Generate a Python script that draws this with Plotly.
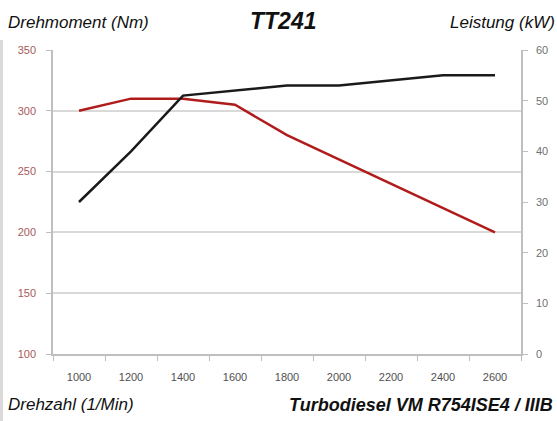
import plotly.graph_objects as go

rpm = ["1000", "1200", "1400", "1600", "1800", "2000", "2200", "2400", "2600"]
torque_nm = [300, 310, 310, 305, 280, 260, 240, 220, 200]
power_kw = [30, 40, 51, 52, 53, 53, 54, 55, 55]

fig = go.Figure()
fig.add_trace(go.Scatter(x=rpm, y=torque_nm, mode="lines", name="Drehmoment",
                         line=dict(color="#b01c1c", width=2.5), yaxis="y"))
fig.add_trace(go.Scatter(x=rpm, y=power_kw, mode="lines", name="Leistung",
                         line=dict(color="#1a1a1a", width=2.5), yaxis="y2"))

tickfont = dict(family="Liberation Sans, Arial, sans-serif", size=11)
fig.update_layout(
    width=557, height=421,
    margin=dict(l=53, r=36, t=50, b=67, autoexpand=False),
    paper_bgcolor="white", plot_bgcolor="white",
    showlegend=False,
    xaxis=dict(type="category", range=[-0.5, 8.5], showgrid=False, automargin=False,
               showline=True, linecolor="#bfbfbf", linewidth=1.5,
               ticks="outside", tickson="boundaries", ticklen=5, tickcolor="#bfbfbf",
               ticklabelstandoff=12,
               tickfont=dict(color="#505050", **tickfont)),
    yaxis=dict(range=[100, 350], dtick=50, showgrid=True, gridcolor="#d9d9d9", gridwidth=2,
               showline=True, linecolor="#bfbfbf", linewidth=1.5, automargin=False,
               ticks="outside", ticklen=5, tickcolor="#bfbfbf",
               ticklabelstandoff=8,
               tickfont=dict(color="#a85a5a", **tickfont), zeroline=False),
    yaxis2=dict(range=[0, 60], dtick=10, overlaying="y", side="right", showgrid=False,
                showline=True, linecolor="#bfbfbf", linewidth=1.5, automargin=False,
                ticks="outside", ticklen=5, tickcolor="#bfbfbf",
                ticklabelstandoff=6,
                tickfont=dict(color="#707070", **tickfont), zeroline=False),
)

narrow = "Liberation Sans Narrow, Arial Narrow, Liberation Sans, sans-serif"
def ann(text, x, y, xanchor, size, bold=False):
    t = "<b><i>%s</i></b>" % text if bold else "<i>%s</i>" % text
    fig.add_annotation(text=t, xref="paper", yref="paper", x=x, y=y,
                       xanchor=xanchor, yanchor="middle", showarrow=False,
                       font=dict(family=narrow, size=size, color="#111111"))

pw, ph = 557 - 53 - 36, 421 - 50 - 67
def px(xp): return (xp - 53) / pw
def py(yp): return (421 - 67 - yp) / ph

ann("Drehmoment (Nm)", px(6), py(22), "left", 17)
ann("TT241", px(283), py(21), "center", 23, bold=True)
ann("Leistung (kW)", px(557), py(22), "right", 17)
ann("Drehzahl (1/Min)", px(6), py(405), "left", 17)
ann("Turbodiesel VM R754ISE4 / IIIB", px(555), py(405), "right", 18, bold=True)

fig.add_shape(type="rect", xref="paper", yref="paper", x0=px(0), x1=px(3), y0=py(40), y1=py(421),
              fillcolor="#d9d9d9", line=dict(width=0), layer="below")

fig.write_html("out.html", config={"displayModeBar": False},
               post_script="document.body.style.margin='0';document.body.style.overflow='hidden';")
